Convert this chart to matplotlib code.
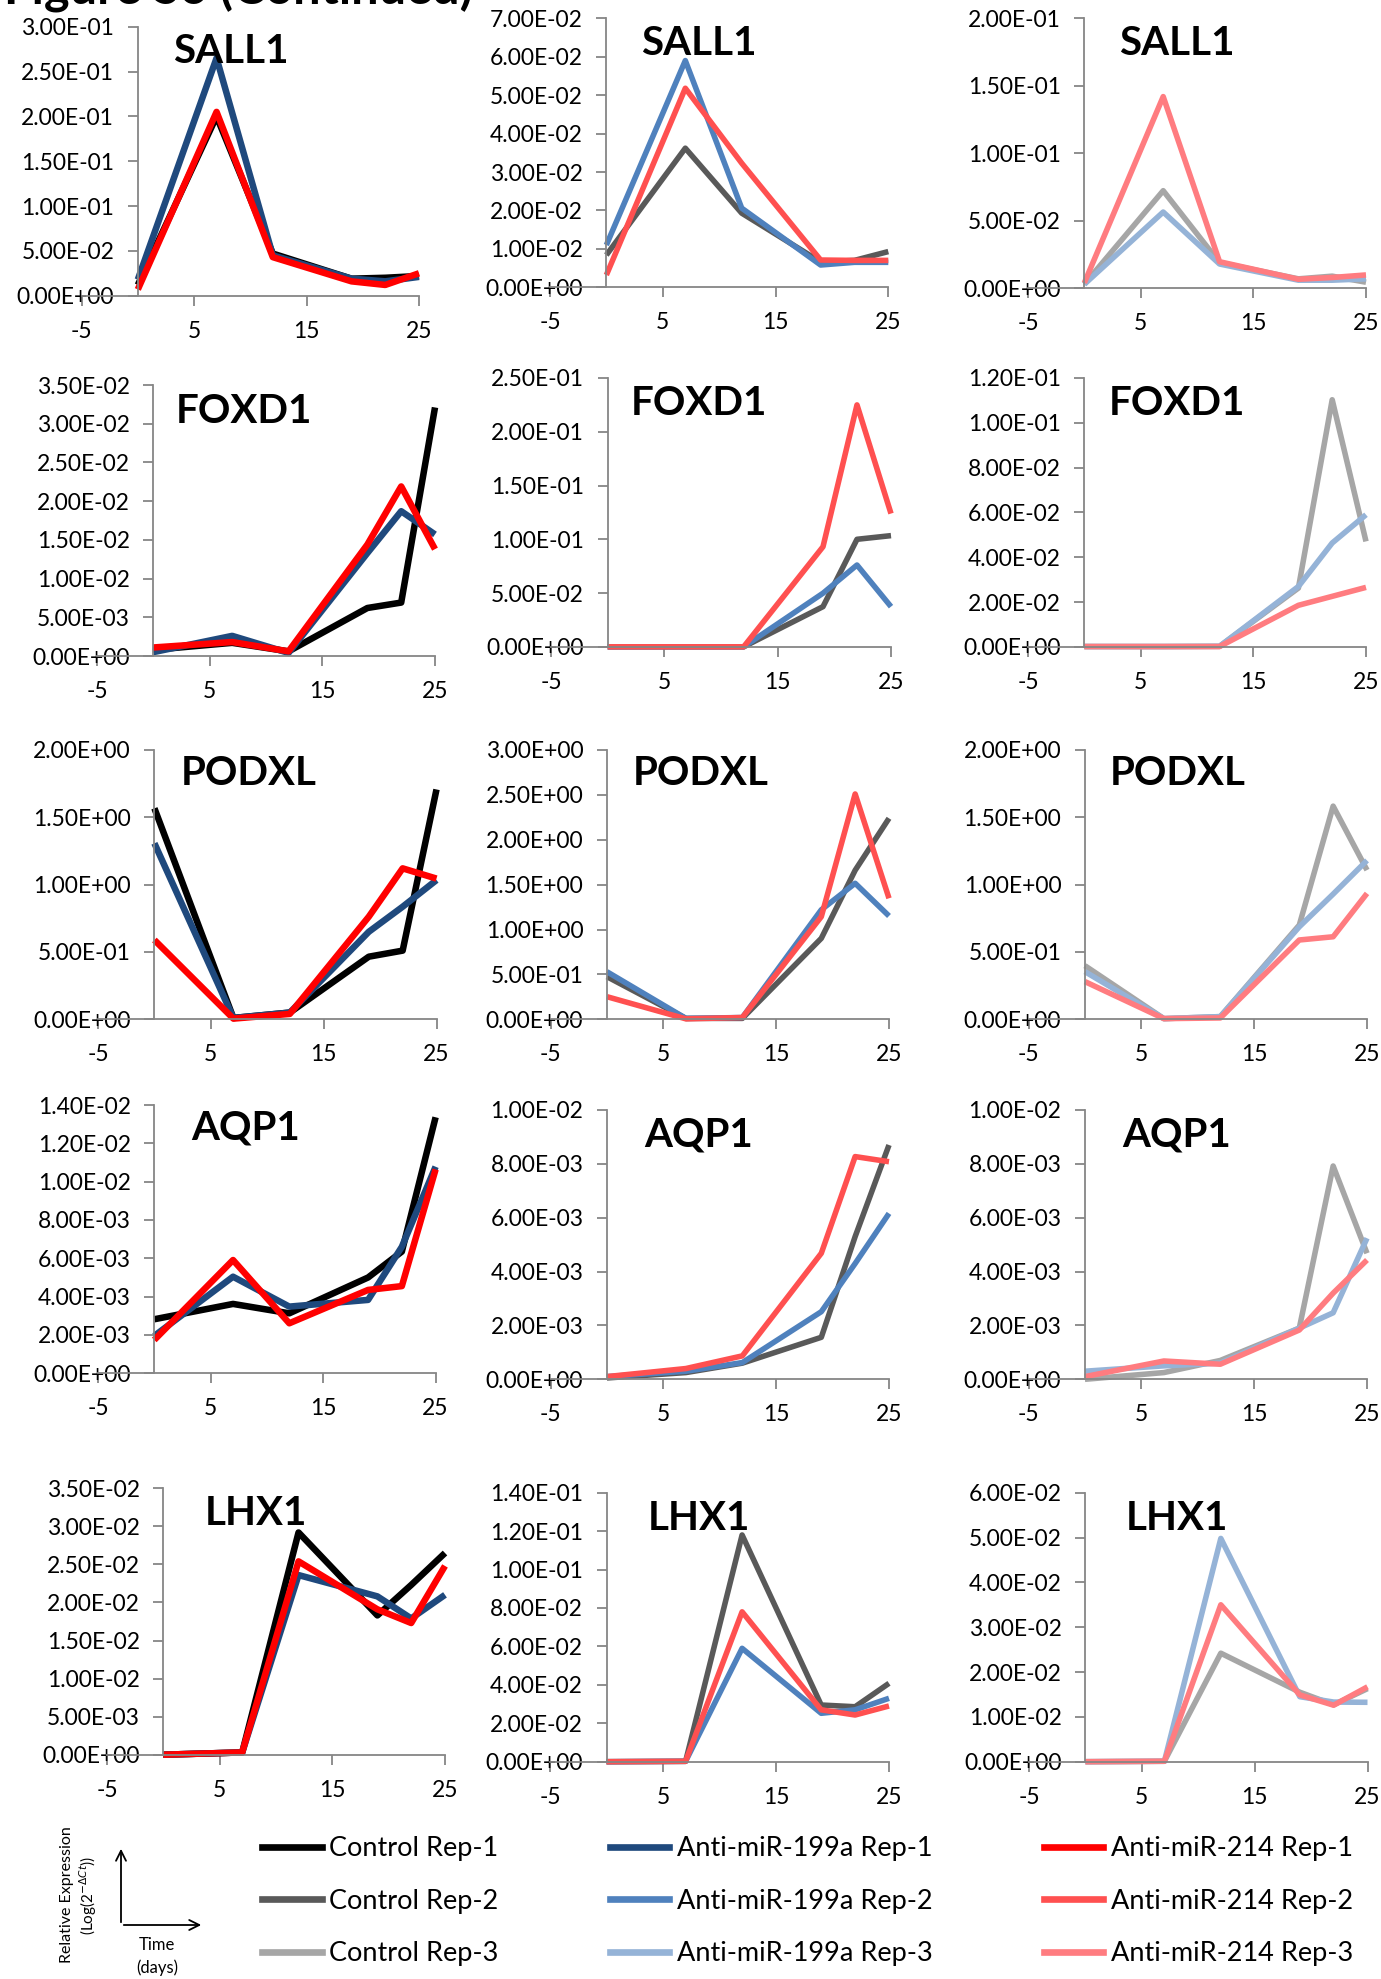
import numpy as np
import matplotlib
matplotlib.use("Agg")
import matplotlib.pyplot as plt
from matplotlib.lines import Line2D

plt.rcParams['font.family'] = ['Lato', 'DejaVu Sans']

# ---------------- data ----------------
days = [0, 7, 12, 19, 22, 25]
genes = ["SALL1", "FOXD1", "PODXL", "AQP1", "LHX1"]
groups = ["Control", "Anti-miR-199a", "Anti-miR-214"]

SALL1_control = [[0.012, 0.200, 0.047, 0.019, 0.020, 0.022],
                 [0.0084, 0.0362, 0.0193, 0.0066, 0.0070, 0.0093],
                 [0.003, 0.0723, 0.019, 0.007, 0.009, 0.0045]]
SALL1_199a = [[0.018, 0.265, 0.045, 0.019, 0.016, 0.021],
              [0.011, 0.059, 0.0206, 0.0058, 0.0065, 0.0065],
              [0.003, 0.0565, 0.018, 0.006, 0.006, 0.007]]
SALL1_214 = [[0.007, 0.205, 0.043, 0.016, 0.012, 0.025],
             [0.0032, 0.0518, 0.0323, 0.0071, 0.0070, 0.0070],
             [0.004, 0.142, 0.0197, 0.0067, 0.008, 0.0099]]

FOXD1_control = [[0.0008, 0.0017, 0.0006, 0.0062, 0.0069, 0.0321],
                 [0.0002, 0.0002, 0.0002, 0.0375, 0.1001, 0.1035],
                 [0.0002, 0.0002, 0.0003, 0.0263, 0.1103, 0.0471]]
FOXD1_199a = [[0.0005, 0.0026, 0.0004, 0.0133, 0.0187, 0.0157],
              [0.0002, 0.0002, 0.0002, 0.050, 0.0762, 0.0375],
              [0.0002, 0.0002, 0.0003, 0.027, 0.0464, 0.059]]
FOXD1_214 = [[0.0011, 0.0018, 0.0006, 0.0144, 0.0219, 0.0138],
             [0.0002, 0.0002, 0.0002, 0.0932, 0.225, 0.124],
             [0.0002, 0.0002, 0.0002, 0.0186, 0.0226, 0.0266]]

PODXL_control = [[1.567, 0.010, 0.050, 0.465, 0.510, 1.707],
                 [0.475, 0.010, 0.010, 0.902, 1.66, 2.239],
                 [0.398, 0.005, 0.020, 0.70, 1.583, 1.108]]
PODXL_199a = [[1.307, 0.010, 0.050, 0.650, 0.836, 1.034],
              [0.530, 0.010, 0.020, 1.220, 1.515, 1.151],
              [0.354, 0.005, 0.020, 0.687, 0.93, 1.18]]
PODXL_214 = [[0.589, 0.005, 0.040, 0.762, 1.121, 1.045],
             [0.252, 0.005, 0.020, 1.143, 2.51, 1.348],
             [0.280, 0.005, 0.010, 0.589, 0.613, 0.935]]

AQP1_control = [[0.00282, 0.00362, 0.00313, 0.0050, 0.00635, 0.01336],
                [0.00005, 0.00025, 0.0006, 0.00156, 0.0053, 0.0087],
                [0.0000, 0.00025, 0.0007, 0.0019, 0.00792, 0.00468]]
AQP1_199a = [[0.00195, 0.00504, 0.00348, 0.00383, 0.0066, 0.01078],
             [0.0001, 0.0003, 0.00062, 0.00251, 0.0043, 0.00616],
             [0.0003, 0.0005, 0.0006, 0.0019, 0.00247, 0.00524]]
AQP1_214 = [[0.00174, 0.00591, 0.00261, 0.00435, 0.00455, 0.01064],
            [0.0001, 0.0004, 0.00087, 0.00468, 0.00827, 0.00808],
            [0.0001, 0.00068, 0.00056, 0.00183, 0.0032, 0.00443]]

LHX1_control = [[0.0000, 0.0003, 0.0292, 0.0183, 0.0223, 0.0265],
                [0.0000, 0.0002, 0.118, 0.0295, 0.0286, 0.0408],
                [0.0000, 0.0001, 0.0242, 0.0155, 0.0127, 0.0163]]
LHX1_199a = [[0.0000, 0.0003, 0.0236, 0.0208, 0.0179, 0.021],
             [0.0000, 0.0002, 0.059, 0.0252, 0.027, 0.033],
             [0.0000, 0.0001, 0.0498, 0.0145, 0.0133, 0.01325]]
LHX1_214 = [[0.0000, 0.0003, 0.0254, 0.0191, 0.0173, 0.0248],
            [0.0000, 0.0002, 0.078, 0.027, 0.0243, 0.029],
            [0.0000, 0.0001, 0.035, 0.0149, 0.0126, 0.0167]]

# y-axis maxima and tick steps per panel (row = gene, col = replicate)
ymax = [[0.30, 0.07, 0.20],
        [0.035, 0.25, 0.12],
        [2.0, 3.0, 2.0],
        [0.014, 0.010, 0.010],
        [0.035, 0.14, 0.06]]
ystep = [[0.05, 0.01, 0.05],
         [0.005, 0.05, 0.02],
         [0.5, 0.5, 0.5],
         [0.002, 0.002, 0.002],
         [0.005, 0.02, 0.01]]
xticks = [-5, 5, 15, 25]

series = {
    "SALL1": (SALL1_control, SALL1_199a, SALL1_214),
    "FOXD1": (FOXD1_control, FOXD1_199a, FOXD1_214),
    "PODXL": (PODXL_control, PODXL_199a, PODXL_214),
    "AQP1": (AQP1_control, AQP1_199a, AQP1_214),
    "LHX1": (LHX1_control, LHX1_199a, LHX1_214),
}

colors = [["#000000", "#595959", "#a6a6a6"],
          ["#1f497d", "#4f81bd", "#95b3d7"],
          ["#ff0000", "#ff5050", "#ff7c80"]]

# ---------------- layout (pixels: left, right, top, bottom) ----------------
W, H = 1381, 1979
boxes = [
    [(81.6, 419, 26.7, 295.7), (550, 888.3, 18.3, 287.3), (1028, 1366, 18.3, 288.3)],
    [(97, 435, 385, 656), (551, 891, 378, 647), (1028, 1366, 378, 647)],
    [(98, 436.5, 750, 1019.3), (550.5, 889, 750, 1019.3), (1028.5, 1367, 750, 1019.3)],
    [(98, 435.6, 1105, 1373.3), (550.5, 889, 1110, 1379.3), (1028.5, 1367, 1110, 1379.3)],
    [(107, 445, 1488.3, 1754.7), (550, 889, 1492.7, 1761.7), (1029, 1367.5, 1492.7, 1761.7)],
]
title_pos = [
    [(231, 48), (699, 40), (1176.5, 40)],
    [(243.6, 407.7), (699, 400), (1176.5, 400)],
    [(248.7, 770), (700.6, 770), (1177.7, 770)],
    [(246, 1124.7), (699, 1131), (1176.5, 1131)],
    [(256, 1509.7), (699, 1514.8), (1176.5, 1514.8)],
]

fig = plt.figure(figsize=(W / 100, H / 100), dpi=100)
spine_col = "#868686"

for r, gene in enumerate(genes):
    data = series[gene]
    for c in range(3):
        L, R, T, B = boxes[r][c]
        ax = fig.add_axes([L / W, 1 - B / H, (R - L) / W, (B - T) / H])
        for g in range(3):
            ax.plot(days, data[g][c], color=colors[g][c],
                    lw=4.7 if c == 0 else 4.0, clip_on=False,
                    solid_joinstyle="round", solid_capstyle="butt")
        ax.set_xlim(-5, 25)
        ax.set_ylim(0, ymax[r][c])
        n = int(round(ymax[r][c] / ystep[r][c]))
        yt = np.linspace(0, ymax[r][c], n + 1)
        ax.set_yticks(yt)
        ax.set_yticklabels([f"{v:.2E}" for v in yt])
        ax.set_xticks(xticks)
        ax.set_xticklabels([str(v) for v in xticks])
        ax.spines["left"].set_position(("data", 0))
        for s in ("top", "right"):
            ax.spines[s].set_visible(False)
        for s in ("left", "bottom"):
            ax.spines[s].set_color(spine_col)
            ax.spines[s].set_linewidth(1.3)
        ax.tick_params(axis="y", direction="out", length=7, width=1.3,
                       color=spine_col, labelsize=16.5, pad=10)
        ax.tick_params(axis="x", direction="out", length=7, width=1.3,
                       color=spine_col, labelsize=16.5, pad=11)
        ax.patch.set_alpha(0)
        tx, ty = title_pos[r][c]
        fig.text(tx / W, 1 - (ty + 15) / H, gene, ha="center", va="baseline",
                 fontsize=29, fontweight="bold")

# ---------------- main title (partly cut at the top) ----------------
fig.text(4 / W, 1 - 3 / H, "Figure S6 (Continued)", fontsize=35,
         fontweight="bold", ha="left", va="baseline")

# ---------------- legend ----------------
handles, labels = [], []
for g, name in enumerate(groups):
    for rep in range(3):
        handles.append(Line2D([], [], color=colors[g][rep], lw=4.8))
        labels.append(f"{name} Rep-{rep + 1}")
fig.legend(handles, labels, ncol=3, loc="upper left",
           bbox_to_anchor=(262 / W, 1 - 1836 / H), frameon=False,
           fontsize=19.5, handlelength=2.2, handletextpad=0.28,
           columnspacing=4.1, labelspacing=1.02, borderpad=0, borderaxespad=0)

# ---------------- axes icon ----------------
ox, oy = 121, 1925
fig.add_artist(matplotlib.patches.FancyArrowPatch(
    (ox / W, 1 - oy / H), (ox / W, 1 - 1846 / H), transform=fig.transFigure,
    arrowstyle="->", mutation_scale=18, lw=1.3, color="black"))
fig.add_artist(matplotlib.patches.FancyArrowPatch(
    (ox / W, 1 - oy / H), (204 / W, 1 - oy / H), transform=fig.transFigure,
    arrowstyle="->", mutation_scale=18, lw=1.3, color="black"))
fig.text(67 / W, 1 - 1895 / H, "Relative Expression",
         rotation=90, ha="center", va="center", fontsize=11.5)
fig.text(88 / W, 1 - 1895 / H, r"(Log(2$^{-\Delta Ct}$))",
         rotation=90, ha="center", va="center", fontsize=11)
fig.text(157 / W, 1 - 1945 / H, "Time", ha="center", va="center", fontsize=12)
fig.text(157 / W, 1 - 1968 / H, "(days)", ha="center", va="center", fontsize=12)

fig.savefig("out.png", dpi=100, facecolor="white")
